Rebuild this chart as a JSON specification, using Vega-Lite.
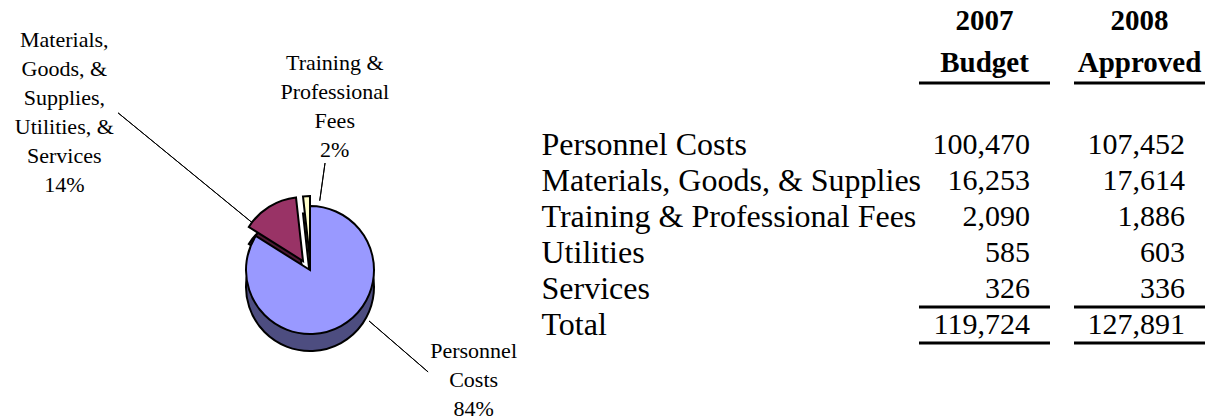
{
  "$schema": "https://vega.github.io/schema/vega-lite/v6.json",
  "padding": 0,
  "background": "white",
  "config": {
    "view": {"stroke": null},
    "font": "Liberation Serif",
    "text": {"font": "Liberation Serif", "color": "black"}
  },
  "datasets": {
    "pie": [
      {"slice": "Personnel Costs", "amount": 100470, "rank": 1, "label": ["Personnel", "Costs", "84%"]},
      {"slice": "Materials, Goods, & Supplies, Utilities, & Services", "amount": 17164, "rank": 2, "label": ["Materials,", "Goods, &", "Supplies,", "Utilities, &", "Services", "14%"]},
      {"slice": "Training & Professional Fees", "amount": 2090, "rank": 3, "label": ["Training &", "Professional", "Fees", "2%"]}
    ],
    "table": [
      {"item": "Personnel Costs", "2007 Budget": 100470, "2008 Approved": 107452},
      {"item": "Materials, Goods, & Supplies", "2007 Budget": 16253, "2008 Approved": 17614},
      {"item": "Training & Professional Fees", "2007 Budget": 2090, "2008 Approved": 1886},
      {"item": "Utilities", "2007 Budget": 585, "2008 Approved": 603},
      {"item": "Services", "2007 Budget": 326, "2008 Approved": 336},
      {"item": "Total", "2007 Budget": 119724, "2008 Approved": 127891}
    ],
    "heads": [
      {"col": "2007 Budget", "lines": ["2007", "Budget"]},
      {"col": "2008 Approved", "lines": ["2008", "Approved"]}
    ]
  },
  "columns": 2,
  "align": "each",
  "bounds": "flush",
  "spacing": {"row": 44, "column": 299},
  "concat": [
    {
      "width": 620, "height": 83,
      "data": {"values": []},
      "mark": "point"
    },
    {
      "width": 286, "height": 83,
      "data": {"name": "heads"},
      "encoding": {
        "x": {"field": "col", "type": "nominal", "scale": {"domain": ["2007 Budget", "2008 Approved"], "paddingInner": 0.155, "paddingOuter": 0}, "axis": null}
      },
      "layer": [
        {
          "mark": {"type": "text", "fontSize": 29, "fontWeight": "bold", "lineHeight": 42, "baseline": "middle", "align": "center", "dy": -21},
          "encoding": {
            "y": {"datum": "head", "type": "nominal", "scale": {"domain": ["head"], "paddingInner": 0, "paddingOuter": 0}, "axis": null},
            "text": {"field": "lines"}
          }
        },
        {
          "mark": {"type": "tick", "orient": "horizontal", "thickness": 3, "size": 131, "color": "black", "opacity": 1},
          "encoding": {
            "y": {"datum": "head", "type": "nominal", "bandPosition": 1, "axis": null}
          }
        }
      ]
    },
    {
      "width": 620, "height": 286,
      "data": {"name": "pie"},
      "encoding": {
        "theta": {"field": "amount", "type": "quantitative", "stack": true},
        "order": {"field": "rank", "type": "quantitative"}
      },
      "layer": [
        {
          "transform": [{"stack": "amount", "groupby": [], "sort": [{"field": "rank", "order": "ascending"}], "as": ["a0", "a1"]}],
          "mark": {"type": "arc", "filled": false, "color": "black", "strokeWidth": 1,
            "radius": {"expr": "datum.rank == 1 ? 156 : datum.rank == 2 ? 248 : 108"},
            "radius2": {"expr": "datum.rank == 1 ? 78 : datum.rank == 2 ? 72 : 70"},
            "thetaOffset": {"expr": "datum.rank == 1 ? 2.2829 : datum.rank == 2 ? 0.1257 : 0.2493"},
            "theta2Offset": {"expr": "datum.rank == 1 ? 2.2829 : datum.rank == 2 ? 0.1257 : 0.2493"}},
          "encoding": {
            "theta": {"field": "a0", "type": "quantitative"},
            "theta2": {"field": "a0"}
          }
        },
        {
          "mark": {"type": "arc", "radius": 64, "stroke": "black", "strokeWidth": 2,
            "xOffset": {"expr": "datum.rank == 2 ? -7 : 0"},
            "yOffset": {"expr": "17 + (datum.rank == 2 ? -9 : datum.rank == 3 ? -10 : 0)"}},
          "encoding": {
            "color": {"field": "slice", "type": "nominal", "legend": null,
              "scale": {"domain": ["Personnel Costs", "Materials, Goods, & Supplies, Utilities, & Services", "Training & Professional Fees"], "range": ["#4D4D80", "#4D1A33", "#80806A"]}}
          }
        },
        {
          "mark": {"type": "arc", "radius": 64, "stroke": "black", "strokeWidth": 2,
            "xOffset": {"expr": "datum.rank == 2 ? -7 : 0"},
            "yOffset": {"expr": "datum.rank == 2 ? -9 : datum.rank == 3 ? -10 : 0"}},
          "encoding": {
            "color": {"field": "slice", "type": "nominal", "legend": null,
              "scale": {"domain": ["Personnel Costs", "Materials, Goods, & Supplies, Utilities, & Services", "Training & Professional Fees"], "range": ["#9999FF", "#993366", "#FFFFCC"]}}
          }
        },
        {
          "mark": {"type": "text", "radius": 150, "fontSize": 22, "lineHeight": 29, "align": "center", "baseline": "middle",
            "dx": {"expr": "datum.rank == 1 ? 91 : datum.rank == 2 ? -166 : 33"},
            "dy": {"expr": "datum.rank == 1 ? -50 : datum.rank == 2 ? -103 : -57"}},
          "encoding": {
            "text": {"field": "label"},
            "detail": {"field": "slice", "type": "nominal"}
          }
        }
      ],
      "resolve": {"scale": {"color": "independent"}}
    },
    {
      "width": 286, "height": 216,
      "data": {"name": "table"},
      "transform": [{"fold": ["2007 Budget", "2008 Approved"], "as": ["col", "value"]}],
      "encoding": {
        "x": {"field": "col", "type": "nominal", "scale": {"domain": ["2007 Budget", "2008 Approved"], "paddingInner": 0.155, "paddingOuter": 0}, "axis": null},
        "y": {"field": "item", "type": "nominal",
          "scale": {"domain": ["Personnel Costs", "Materials, Goods, & Supplies", "Training & Professional Fees", "Utilities", "Services", "Total"], "paddingInner": 0, "paddingOuter": 0},
          "axis": {"title": null, "domain": false, "ticks": false, "tickSize": 0, "labelAlign": "left", "labelBaseline": "middle", "labelPadding": 378, "labelFont": "Liberation Serif", "labelFontSize": 32, "labelColor": "black", "labelLimit": 0}}
      },
      "layer": [
        {
          "mark": {"type": "text", "fontSize": 30, "align": "right", "baseline": "middle", "dx": -20},
          "encoding": {
            "x": {"field": "col", "type": "nominal", "bandPosition": 1, "axis": null},
            "text": {"field": "value", "type": "quantitative", "format": ",d"}
          }
        },
        {
          "transform": [{"filter": "datum.item === 'Total'"}],
          "mark": {"type": "tick", "orient": "horizontal", "thickness": 3, "size": 131, "color": "black", "opacity": 1},
          "encoding": {"y": {"field": "item", "type": "nominal", "bandPosition": 0}}
        },
        {
          "transform": [{"filter": "datum.item === 'Total'"}],
          "mark": {"type": "tick", "orient": "horizontal", "thickness": 3, "size": 131, "color": "black", "opacity": 1},
          "encoding": {"y": {"field": "item", "type": "nominal", "bandPosition": 1}}
        }
      ]
    }
  ]
}
